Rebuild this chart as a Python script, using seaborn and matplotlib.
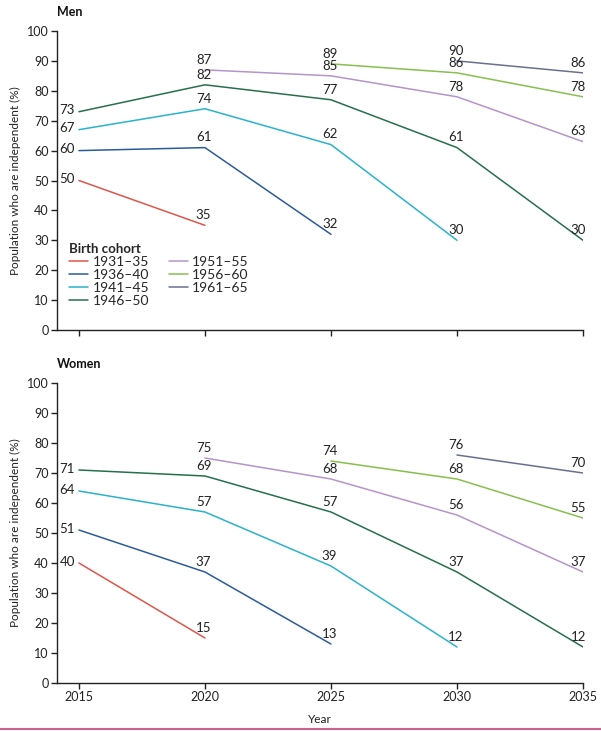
import matplotlib
matplotlib.use("Agg")
import matplotlib.pyplot as plt
import seaborn as sns
import pandas as pd
import numpy as np

years = [2015, 2020, 2025, 2030, 2035]
cohorts = ["1931–35", "1936–40", "1941–45", "1946–50", "1951–55", "1956–60", "1961–65"]
colors = ["#e0554a", "#2b5c9a", "#29b3cc", "#26704c", "#b594cc", "#86c04e", "#68708f"]

# values per cohort aligned with years (None = no data)
men_1931 = [50, 35, None, None, None]
men_1936 = [60, 61, 32, None, None]
men_1941 = [67, 74, 62, 30, None]
men_1946 = [73, 82, 77, 61, 30]
men_1951 = [None, 87, 85, 78, 63]
men_1956 = [None, None, 89, 86, 78]
men_1961 = [None, None, None, 90, 86]

women_1931 = [40, 15, None, None, None]
women_1936 = [51, 37, 13, None, None]
women_1941 = [64, 57, 39, 12, None]
women_1946 = [71, 69, 57, 37, 12]
women_1951 = [None, 75, 68, 56, 37]
women_1956 = [None, None, 74, 68, 55]
women_1961 = [None, None, None, 76, 70]

men = [men_1931, men_1936, men_1941, men_1946, men_1951, men_1956, men_1961]
women = [women_1931, women_1936, women_1941, women_1946, women_1951, women_1956, women_1961]


def to_df(series):
    rows = []
    for c, vals in zip(cohorts, series):
        for y, v in zip(years, vals):
            if v is not None:
                rows.append({"Year": y, "Value": v, "Cohort": c})
    return pd.DataFrame(rows)


sns.set_style("white")
plt.rcParams["font.family"] = ["Lato", "DejaVu Sans"]

fig = plt.figure(figsize=(6.01, 7.31), dpi=100)
W, H = 601, 731
ax1 = fig.add_axes([57 / W, 1 - 330 / H, (583 - 57) / W, (330 - 31) / H])
ax2 = fig.add_axes([57 / W, 1 - 683 / H, (583 - 57) / W, (683 - 383) / H])

palette = dict(zip(cohorts, colors))

for ax, series, title in [(ax1, men, "Men"), (ax2, women, "Women")]:
    df = to_df(series)
    sns.lineplot(data=df, x="Year", y="Value", hue="Cohort", palette=palette,
                 hue_order=cohorts, ax=ax, linewidth=1.1, legend=(ax is ax1))
    for _, r in df.iterrows():
        if r["Year"] == 2015:
            ax.annotate(str(int(r["Value"])), (r["Year"], r["Value"]),
                        xytext=(-3, 1), textcoords="offset points",
                        ha="right", va="center", fontsize=9.5, color="#222222")
        elif r["Year"] == 2035:
            ax.annotate(str(int(r["Value"])), (r["Year"], r["Value"]),
                        xytext=(2, 3), textcoords="offset points",
                        ha="right", va="bottom", fontsize=9.5, color="#222222")
        else:
            ax.annotate(str(int(r["Value"])), (r["Year"], r["Value"]),
                        xytext=(-1, 3), textcoords="offset points",
                        ha="center", va="bottom", fontsize=9.5, color="#222222")
    ax.set_xlim(2014.13, 2035)
    ax.set_ylim(0, 100)
    ax.set_yticks(range(0, 101, 10))
    ax.set_xticks(years)
    for s in ["top", "right"]:
        ax.spines[s].set_visible(False)
    for s in ["left", "bottom"]:
        ax.spines[s].set_color("#222222")
        ax.spines[s].set_linewidth(1.0)
    ax.tick_params(axis="both", direction="out", length=4, width=1, color="#222222",
                   labelsize=9, labelcolor="#222222", left=True, bottom=True, pad=2)
    ax.set_ylabel("Population who are independent (%)", fontsize=8.5, color="#222222", labelpad=4)
    ax.text(0.0, 1.045, title, transform=ax.transAxes, fontsize=9, fontweight="bold",
            ha="left", va="bottom", color="#111111")

ax1.set_xticklabels([])
ax1.set_xlabel("")
ax2.set_xlabel("Year", fontsize=8.5, color="#222222", labelpad=8)

leg = ax1.legend(title="Birth cohort", ncol=2, loc="upper left",
                 bbox_to_anchor=(0.012, 0.31), frameon=False, fontsize=10,
                 handlelength=1.4, handletextpad=0.3, labelspacing=0.08,
                 columnspacing=1.4, borderaxespad=0, alignment="left")
leg.get_title().set_fontweight("bold")
leg.get_title().set_fontsize(9.5)

fig.add_artist(plt.Line2D([0, 1], [1 - 729 / H, 1 - 729 / H], color="#d0608c",
                          linewidth=1.5, transform=fig.transFigure))

fig.savefig("out.png", dpi=100)
